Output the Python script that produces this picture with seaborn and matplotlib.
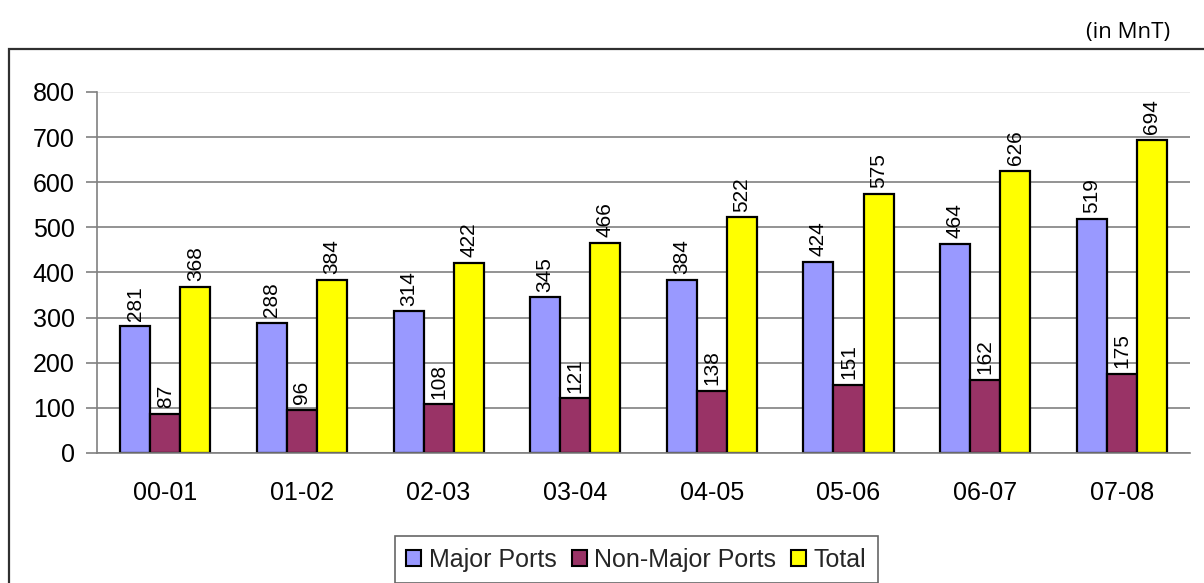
import matplotlib
matplotlib.use("Agg")
import matplotlib.pyplot as plt
from matplotlib.patches import Rectangle, Patch
import seaborn as sns
import pandas as pd

# Port traffic by financial year (million tonnes)
years = ["00-01", "01-02", "02-03", "03-04", "04-05", "05-06", "06-07", "07-08"]
major_ports = [281, 288, 314, 345, 384, 424, 464, 519]
non_major_ports = [87, 96, 108, 121, 138, 151, 162, 175]
total = [368, 384, 422, 466, 522, 575, 626, 694]

series_names = ["Major Ports", "Non-Major Ports", "Total"]
series_colors = ["#9999FF", "#993366", "#FFFF00"]

df = pd.DataFrame({
    "year": years * 3,
    "series": [series_names[0]] * len(years) + [series_names[1]] * len(years) + [series_names[2]] * len(years),
    "value": major_ports + non_major_ports + total,
})

sns.set_theme(style="white")
plt.rcParams["font.family"] = ["Liberation Sans", "DejaVu Sans"]

fig = plt.figure(figsize=(12.04, 5.83), dpi=100)
ax = fig.add_axes([0.0806, 0.2230, 0.9078, 0.6192])

sns.barplot(data=df, x="year", y="value", hue="series", hue_order=series_names,
            palette=series_colors, width=0.66, gap=0, edgecolor="black",
            linewidth=1.6, saturation=1, legend=False, ax=ax)

# Value labels, rotated, sitting on top of each bar
for container in ax.containers:
    ax.bar_label(container, labels=[f"{v:.0f}" for v in container.datavalues],
                 rotation=90, padding=4, fontsize=15, color="black")

ax.set_ylim(0, 800)
ax.set_xlim(-0.5, len(years) - 0.5)
ax.set_yticks(range(0, 801, 100))
ax.set_xlabel("")
ax.set_ylabel("")
ax.set_axisbelow(True)
ax.yaxis.grid(True, color="#808080", linewidth=1.2)
ax.xaxis.grid(False)
ax.get_ygridlines()[-1].set_color("#e6e6e6")

for side in ["top", "right"]:
    ax.spines[side].set_visible(False)
for side in ["left", "bottom"]:
    ax.spines[side].set_color("#808080")
    ax.spines[side].set_linewidth(1.2)

# Category ticks sit between the groups
ax.set_xticks([i + 0.5 for i in range(-1, len(years))], minor=True)
ax.tick_params(axis="x", which="major", length=0, labelsize=18, pad=20, colors="black")
ax.tick_params(axis="x", which="minor", length=8, width=1.2, color="#808080", direction="out")
ax.tick_params(axis="y", length=8, width=1.2, color="#808080", direction="out",
               labelsize=18, pad=8, labelcolor="black")
ax.tick_params(left=True, bottom=True)

# Legend
handles = [Patch(facecolor=c, edgecolor="black", linewidth=1.5) for c in series_colors]
leg = fig.legend(handles, series_names, loc="upper center", bbox_to_anchor=(0.5285, 0.080),
                 ncol=3, frameon=True, fancybox=False, fontsize=18, handlelength=0.6,
                 handleheight=0.6, handletextpad=0.3, columnspacing=0.6,
                 borderpad=0.45, borderaxespad=0)
leg.get_frame().set_edgecolor("#404040")
leg.get_frame().set_linewidth(1.2)

# Outer chart frame
fig.patches.append(Rectangle((0.0071, -0.05), 1.05, 0.966, transform=fig.transFigure,
                             fill=False, edgecolor="#303030", linewidth=1.6, zorder=0))

fig.text(0.972, 0.944, "(in MnT)", ha="right", va="center", fontsize=16,
         family=["Open Sans", "DejaVu Sans"], color="black")

fig.savefig("out.png", dpi=100)
